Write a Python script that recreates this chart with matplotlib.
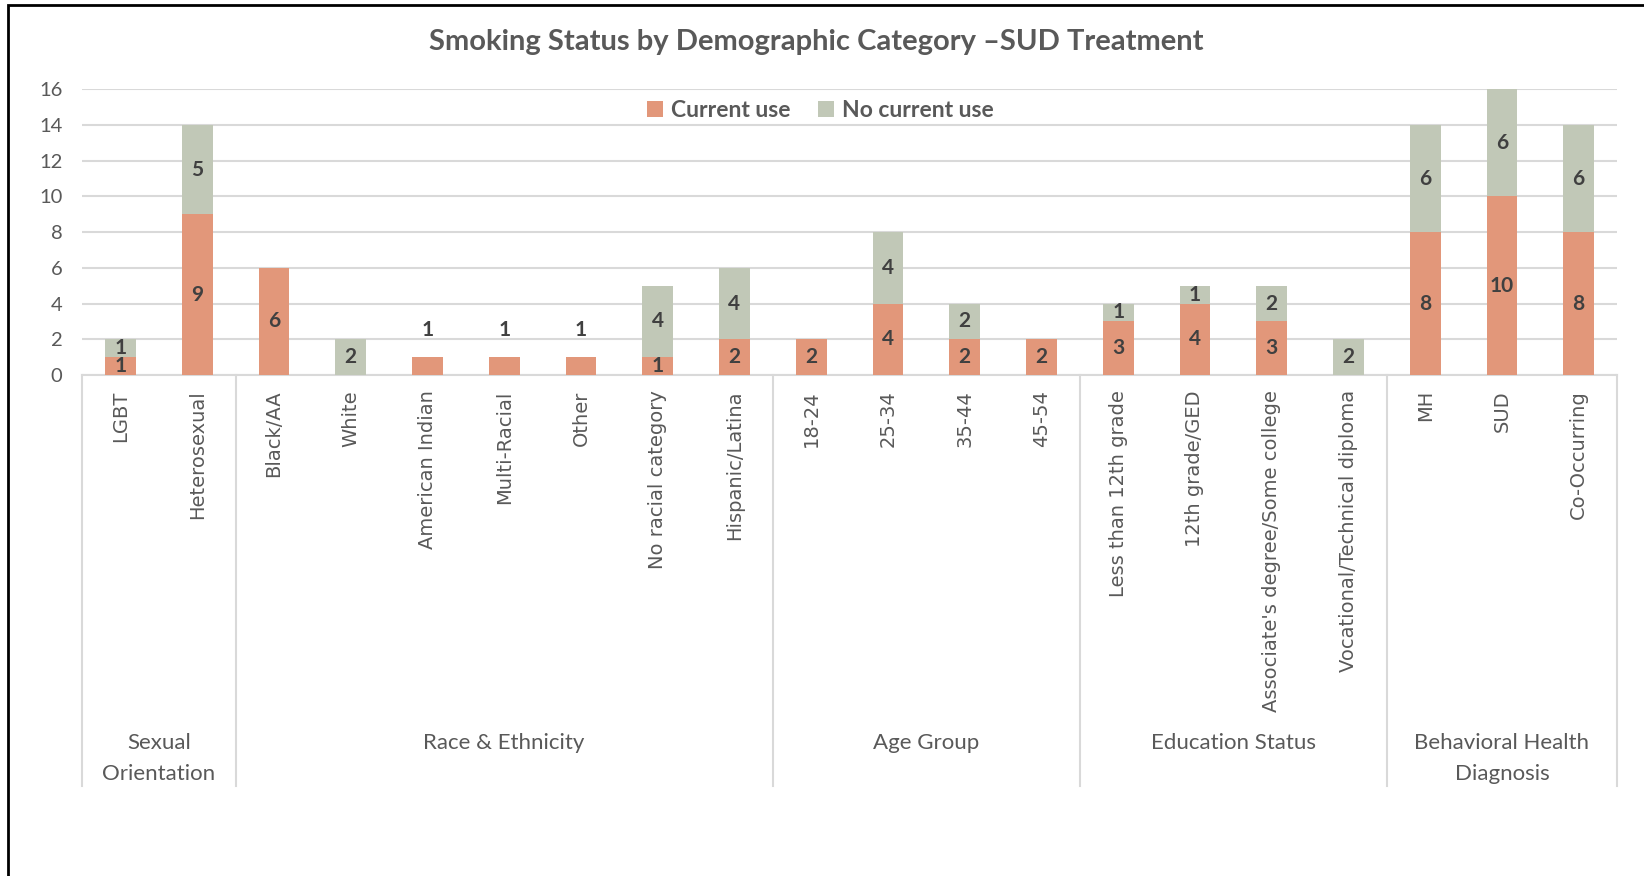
import matplotlib
matplotlib.use('Agg')
import matplotlib.pyplot as plt
import matplotlib.transforms as mtransforms
from matplotlib.lines import Line2D
from matplotlib.patches import Rectangle

# data
categories = ['LGBT', 'Heterosexual',
              'Black/AA', 'White', 'American Indian', 'Multi-Racial', 'Other',
              'No racial category', 'Hispanic/Latina',
              '18-24', '25-34', '35-44', '45-54',
              'Less than 12th grade', '12th grade/GED',
              "Associate's degree/Some college", 'Vocational/Technical diploma',
              'MH', 'SUD', 'Co-Occurring']
current_use = [1, 9, 6, 0, 1, 1, 1, 1, 2, 2, 4, 2, 2, 3, 4, 3, 0, 8, 10, 8]
no_current_use = [1, 5, 0, 2, 0, 0, 0, 4, 4, 0, 4, 2, 0, 1, 1, 2, 2, 6, 6, 6]
groups = ['Sexual\nOrientation', 'Race & Ethnicity', 'Age Group',
          'Education Status', 'Behavioral Health\nDiagnosis']
group_sizes = [2, 7, 4, 4, 3]

CUR_COLOR = '#E2977A'
NO_COLOR = '#C1C8B7'
GRID = '#D9D9D9'
TXT = '#595959'
LAB = '#404040'
FONT = 'Lato'


def main():
    fig = plt.figure(figsize=(16.44, 8.76), dpi=100)
    ax = fig.add_axes([0.0499, 0.572, 0.9337, 0.326])

    x = list(range(len(categories)))
    ax.bar(x, current_use, width=0.4, color=CUR_COLOR, label='Current use', zorder=3)
    ax.bar(x, no_current_use, width=0.4, bottom=current_use, color=NO_COLOR,
           label='No current use', zorder=3)

    # value labels
    for i in x:
        c = current_use[i]
        n = no_current_use[i]
        if c > 0:
            yc = c + 1.5 if (n == 0 and c <= 1) else c / 2
            ax.text(i, yc, str(c), ha='center', va='center', fontsize=15,
                    fontweight='bold', color=LAB, family=FONT, zorder=4)
        if n > 0:
            ax.text(i, c + n / 2, str(n), ha='center', va='center', fontsize=15,
                    fontweight='bold', color=LAB, family=FONT, zorder=4)

    ax.set_xlim(-0.5, len(categories) - 0.5)
    ax.set_ylim(0, 16)
    ax.set_yticks(range(0, 17, 2))
    ax.yaxis.grid(True, color=GRID, linewidth=1.5, zorder=0)
    ax.set_axisbelow(True)
    for s in ['top', 'right', 'left']:
        ax.spines[s].set_visible(False)
    ax.spines['bottom'].set_color(GRID)
    ax.spines['bottom'].set_linewidth(1.5)
    ax.tick_params(axis='y', length=0, pad=14, labelsize=14.5, labelcolor=TXT)
    for t in ax.get_yticklabels():
        t.set_family(FONT)

    ax.set_xticks(x)
    ax.set_xticklabels(categories, rotation=90, va='top', ha='center',
                       fontsize=14, color=TXT, family='DejaVu Sans')
    ax.tick_params(axis='x', length=0, pad=11)

    # group separators and labels
    trans = mtransforms.blended_transform_factory(ax.transData, fig.transFigure)
    start = -0.5
    bounds = [start]
    for g, size in zip(groups, group_sizes):
        end = start + size
        bounds.append(end)
        ax.text((start + end) / 2, 0.163, g, transform=trans, ha='center', va='top',
                fontsize=16, color=TXT, family=FONT, linespacing=1.7)
        start = end
    for b in bounds:
        fig.add_artist(Line2D([b, b], [0.572, 0.103], transform=trans,
                              color=GRID, linewidth=1.5))

    leg = ax.legend(loc='center', bbox_to_anchor=(0.481, 0.927), ncol=2,
                    frameon=False, handlelength=0.7, handleheight=0.7,
                    handletextpad=0.35, columnspacing=1.2,
                    prop={'family': FONT, 'weight': 'bold', 'size': 16.5})
    for t in leg.get_texts():
        t.set_color(TXT)

    fig.text(0.4965, 0.952, 'Smoking Status by Demographic Category \u2013SUD Treatment',
             ha='center', va='center', fontsize=21, fontweight='bold',
             color=TXT, family=FONT)

    # outer frame
    fig.add_artist(Rectangle((0.0051, -0.1), 1.2, 1.0943, transform=fig.transFigure,
                             fill=False, edgecolor='black', linewidth=2))

    fig.savefig('out.png', dpi=100)


if __name__ == "__main__":
    main()
